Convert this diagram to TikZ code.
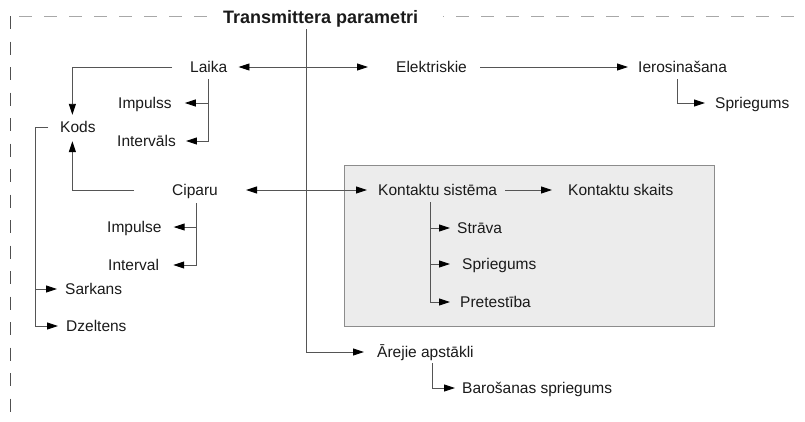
\documentclass[tikz,border=0pt]{standalone}
\usepackage{fontspec}
\setmainfont{Liberation Sans}
\usetikzlibrary{arrows.meta}
\definecolor{ink}{HTML}{1A1A1A}
\definecolor{wire}{HTML}{555555}
\definecolor{frameA}{HTML}{A8A8A8}
\definecolor{frameB}{HTML}{505050}
\definecolor{panel}{HTML}{ECECEC}
\definecolor{panelrim}{HTML}{8C8C8C}
\tikzset{
  lbl/.style={anchor=west, inner sep=0pt, text height=11pt, text depth=0pt,
              font=\fontsize{15.5}{18}\selectfont, text=ink},
  head/.style={font=\fontsize{18}{21}\selectfont\bfseries, anchor=west,
              inner sep=0pt, text height=13pt, text depth=0pt, text=ink},
  link/.style={draw=wire, line width=0.9pt},
  arr/.style={link, -{Triangle[length=11pt,width=7pt,color=black]}},
  arrboth/.style={link, {Triangle[length=11pt,width=7pt,color=black]}-{Triangle[length=11pt,width=7pt,color=black]}},
  framev/.style={draw=frameB, line width=1pt, dash pattern=on 13pt off 12.5pt},
  frameh/.style={draw=frameA, line width=1.3pt, dash pattern=on 13pt off 12pt},
}
\begin{document}
\begin{tikzpicture}[x=1pt,y=-1pt]
\useasboundingbox (0,0) rectangle (805,421);

% dashed outer frame
\draw[framev] (10.5,16) -- (10.5,421);
\draw[frameh] (19,16.5) -- (208,16.5);
\draw[frameh, dash phase=12pt] (443,16.5) -- (805,16.5);

% shaded panel of the contact system
\node (kbox) [draw=panelrim, fill=panel, line width=0.9pt, inner sep=0pt,
      minimum width=370pt, minimum height=161pt, anchor=north west] at (344,165) {};

% labels
\node (title) [head] at (223,16.5) {Transmittera parametri};
\node (laika)  [lbl] at (190,67)  {Laika};
\node (elek)   [lbl] at (396,67)  {Elektriskie};
\node (ieros)  [lbl] at (638,67)  {Ierosinašana};
\node (spra)   [lbl] at (715,103) {Spriegums};
\node (impss)  [lbl] at (118,103) {Impulss};
\node (intvs)  [lbl] at (117,141) {Intervāls};
\node (kods)   [lbl] at (60,127)  {Kods};
\node (ciparu) [lbl] at (172,190) {Ciparu};
\node (impse)  [lbl] at (107,227) {Impulse};
\node (intvl)  [lbl] at (108,265) {Interval};
\node (sark)   [lbl] at (65,289)  {Sarkans};
\node (dzel)   [lbl] at (66,326)  {Dzeltens};
\node (ksist)  [lbl] at (378,190) {Kontaktu sistēma};
\node (kskt)   [lbl] at (568,190) {Kontaktu skaits};
\node (strv)   [lbl] at (457,228) {Strāva};
\node (sprb)   [lbl] at (462,264) {Spriegums};
\node (pret)   [lbl] at (460,302) {Pretestība};
\node (arej)   [lbl] at (377,352) {Ārejie apstākli};
\node (baros)  [lbl] at (462,388) {Barošanas spriegums};

% trunk from the title
\draw[arr] ([xshift=-14pt,yshift=-6pt]title.south) |- ([xshift=-13pt]arej.west);

% upper row
\draw[arrboth] ([xshift=11pt]laika.east) -- ([xshift=-28pt]elek.west);
\draw[arr] ([xshift=13pt]elek.east) -- ([xshift=-10pt]ieros.west);
\draw[arr] ([xshift=-5pt,yshift=-6.5pt]ieros.south) |- ([xshift=-10pt]spra.west);

% time based branch
\draw[arr] ([xshift=-18pt]laika.west) -| ([xshift=-5.5pt,yshift=6.5pt]kods.north);
\draw[arr] ([yshift=-6.5pt]laika.south) |- ([xshift=13pt]impss.east);
\draw[arr] ([yshift=-6.5pt]laika.south) |- ([xshift=10pt]intvs.east);

% digital branch
\draw[arr] ([xshift=-38pt]ciparu.west) -| ([xshift=-5.5pt,yshift=-8.5pt]kods.south);
\draw[arrboth] ([xshift=28pt]ciparu.east) -- ([xshift=-11pt]ksist.west);
\draw[arr] ([xshift=1pt,yshift=-7.5pt]ciparu.south) |- ([xshift=12pt]impse.east);
\draw[arr] ([xshift=1pt,yshift=-7.5pt]ciparu.south) |- ([xshift=14pt]intvl.east);

% colour code
\draw[arr] ([xshift=-12pt]kods.west) -- ++(-13,0) |- ([xshift=-8pt]sark.west);
\draw[arr] ([xshift=-12pt]kods.west) -- ++(-13,0) |- ([xshift=-8pt]dzel.west);

% contact system
\draw[arr] ([xshift=8pt]ksist.east) -- ([xshift=-16pt]kskt.west);
\draw[arr] ([xshift=-7.5pt,yshift=-6.5pt]ksist.south) |- ([xshift=-7pt]strv.west);
\draw[arr] ([xshift=-7.5pt,yshift=-6.5pt]ksist.south) |- ([xshift=-12pt]sprb.west);
\draw[arr] ([xshift=-7.5pt,yshift=-6.5pt]ksist.south) |- ([xshift=-10pt]pret.west);

% external conditions
\draw[arr] ([xshift=7pt,yshift=-5.5pt]arej.south) |- ([xshift=-7pt]baros.west);
\end{tikzpicture}
\end{document}
